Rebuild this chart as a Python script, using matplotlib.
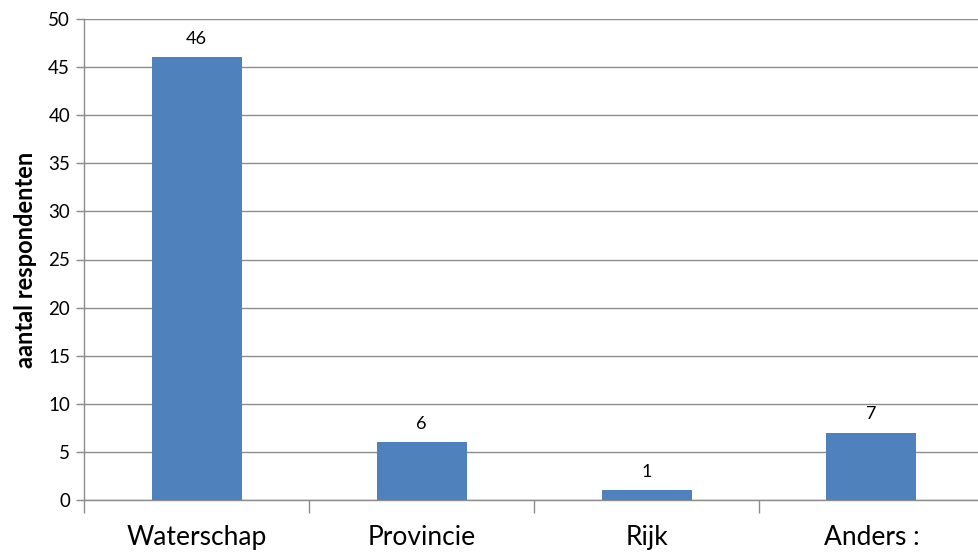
import matplotlib
matplotlib.use("Agg")
import matplotlib.pyplot as plt
import numpy as np

categories = ["Waterschap", "Provincie", "Rijk", "Anders :"]
values = [46, 6, 1, 7]
yticks = [0, 5, 10, 15, 20, 25, 30, 35, 40, 45, 50]

plt.rcParams['font.family'] = ['Lato', 'DejaVu Sans']

fig = plt.figure(figsize=(9.79, 5.54), dpi=100)
ax = fig.add_axes([84/979, 1-500/554, 900/979, (500-19)/554])

x = np.arange(len(categories))
bars = ax.bar(x, values, width=0.4, color="#4F81BD", zorder=3)
for xi, v in zip(x, values):
    ax.text(xi, v + 1.1, str(v), ha="center", va="bottom", fontsize=13, color="#000000")

ax.set_xlim(-0.5, len(categories) - 0.5)
ax.set_ylim(0, 50)
ax.set_yticks(yticks)
ax.yaxis.grid(True, color="#8c8c8c", linewidth=1, zorder=0)
ax.set_axisbelow(True)

ax.set_xticks(np.arange(-0.5, len(categories), 1.0))
ax.set_xticklabels([])
ax.set_xticks(x, minor=True)
ax.set_xticklabels(categories, minor=True, fontsize=19)
ax.tick_params(axis="x", which="major", length=9, color="#8c8c8c", width=1)
ax.tick_params(axis="x", which="minor", length=0, pad=18)
ax.tick_params(axis="y", length=6, color="#8c8c8c", width=1, labelsize=13.5, pad=4)

for s in ["top", "right"]:
    ax.spines[s].set_visible(False)
for s in ["left", "bottom"]:
    ax.spines[s].set_color("#8c8c8c")
    ax.spines[s].set_linewidth(1)

ax.set_ylabel("aantal respondenten", fontsize=17, fontweight="bold", labelpad=8)

fig.savefig("out.png", dpi=100)
